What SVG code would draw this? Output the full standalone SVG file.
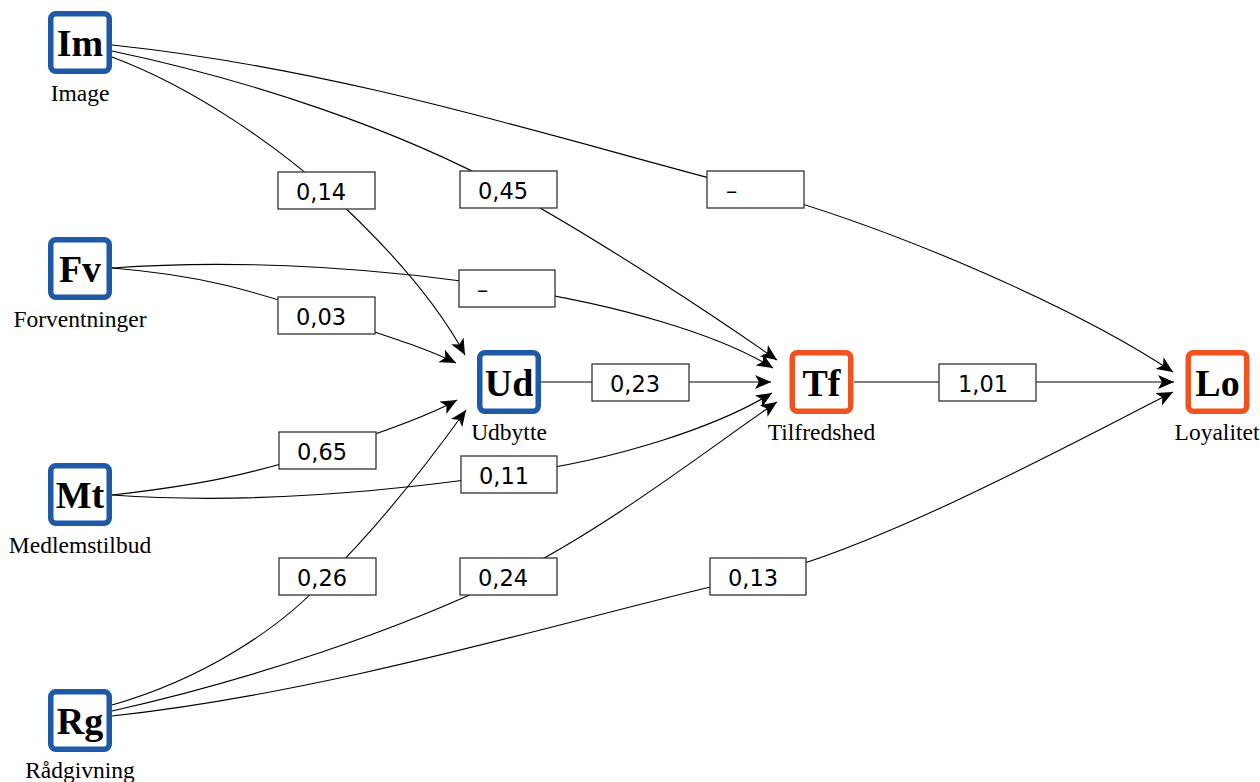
<svg xmlns="http://www.w3.org/2000/svg" width="1260" height="782" viewBox="0 0 1260 782">
<style>
.nb{fill:#fff;stroke-width:5.5}
.blue{stroke:#1f5aa8}
.orange{stroke:#f0531f}
.nt{font-family:"Liberation Serif",serif;font-weight:bold;font-size:38px;text-anchor:middle;fill:#000}
.nl{font-family:"Liberation Serif",serif;font-size:23.5px;text-anchor:middle;fill:#000}
.e{fill:none;stroke:#000;stroke-width:1.1}
.lb{fill:#fff;stroke:#333;stroke-width:1.3}
.lt{font-family:"DejaVu Sans",sans-serif;font-size:22.5px;fill:#000}
</style>
<defs>
<marker id="ar" markerUnits="userSpaceOnUse" markerWidth="18" markerHeight="14" refX="16" refY="7" orient="auto">
<path d="M0,0 L16,7 L0,14 L4,7 z" fill="#000"/>
</marker>
</defs>
<rect width="1260" height="782" fill="#fff"/>
<g id="connectors">
<path class="e" marker-end="url(#ar)" d="M112,57 C200,90 280,150 326,190 C370,230 430,290 465,355"/>
<path class="e" marker-end="url(#ar)" d="M112,51 C250,80 400,130 508,190 C600,240 720,320 777,360"/>
<path class="e" marker-end="url(#ar)" d="M112,45 C350,70 560,140 755,190 C900,230 1080,310 1173,372"/>
<path class="e" marker-end="url(#ar)" d="M112,268 C200,275 250,290 326,315 C380,335 420,345 456,363"/>
<path class="e" marker-end="url(#ar)" d="M112,268 C250,258 400,270 507,288 C620,305 720,335 773,368"/>
<path class="e" marker-end="url(#ar)" d="M112,495 C200,485 250,475 327,450 C390,430 430,415 457,400"/>
<path class="e" marker-end="url(#ar)" d="M112,495 C250,505 400,490 509,474 C620,460 720,425 772,393"/>
<path class="e" marker-end="url(#ar)" d="M112,705 C200,680 280,630 327,577 C380,525 430,460 466,410"/>
<path class="e" marker-end="url(#ar)" d="M112,711 C250,680 400,630 508,577 C610,527 720,440 777,402"/>
<path class="e" marker-end="url(#ar)" d="M112,716 C350,690 600,610 758,576 C870,552 1080,440 1173,392"/>
<path class="e" marker-end="url(#ar)" d="M541,382 L771,382"/>
<path class="e" marker-end="url(#ar)" d="M854,382 L1174,382"/>
</g>
<g id="labels">
<rect class="lb" x="278" y="172" width="97" height="37"/><text class="lt" x="296" y="200">0,14</text>
<rect class="lb" x="460" y="171" width="97" height="37"/><text class="lt" x="478" y="199">0,45</text>
<rect class="lb" x="707" y="171" width="97" height="37"/><text class="lt" x="726" y="199">–</text>
<rect class="lb" x="459" y="270" width="96" height="37"/><text class="lt" x="477" y="298">–</text>
<rect class="lb" x="278" y="297" width="97" height="37"/><text class="lt" x="296" y="325">0,03</text>
<rect class="lb" x="592" y="364" width="97" height="37"/><text class="lt" x="610" y="392">0,23</text>
<rect class="lb" x="939" y="364" width="97" height="37"/><text class="lt" x="958" y="392">1,01</text>
<rect class="lb" x="279" y="432" width="97" height="37"/><text class="lt" x="297" y="460">0,65</text>
<rect class="lb" x="461" y="456" width="96" height="37"/><text class="lt" x="479" y="484">0,11</text>
<rect class="lb" x="279" y="558" width="97" height="37"/><text class="lt" x="297" y="586">0,26</text>
<rect class="lb" x="460" y="558" width="97" height="37"/><text class="lt" x="478" y="586">0,24</text>
<rect class="lb" x="710" y="558" width="96" height="37"/><text class="lt" x="728" y="586">0,13</text>
</g>
<g id="Im"><rect class="nb blue" x="50.75" y="13.75" width="58.5" height="57.5" rx="5"/><text class="nt" x="80" y="56">Im</text><text class="nl" x="80" y="101">Image</text></g>
<g id="Fv"><rect class="nb blue" x="50.75" y="239.75" width="58.5" height="57.5" rx="5"/><text class="nt" x="80" y="282">Fv</text><text class="nl" x="80" y="327">Forventninger</text></g>
<g id="Mt"><rect class="nb blue" x="50.75" y="465.75" width="58.5" height="57.5" rx="5"/><text class="nt" x="80" y="508">Mt</text><text class="nl" x="80" y="553">Medlemstilbud</text></g>
<g id="Rg"><rect class="nb blue" x="50.75" y="691.75" width="58.5" height="57.5" rx="5"/><text class="nt" x="80" y="734">Rg</text><text class="nl" x="80" y="778">Rådgivning</text></g>
<g id="Ud"><rect class="nb blue" x="479.75" y="352.75" width="58.5" height="58.5" rx="5"/><text class="nt" x="509" y="396">Ud</text><text class="nl" x="509" y="440">Udbytte</text></g>
<g id="Tf"><rect class="nb orange" x="792.25" y="352.75" width="58.5" height="58.5" rx="5"/><text class="nt" x="821.5" y="396">Tf</text><text class="nl" x="821.5" y="440">Tilfredshed</text></g>
<g id="Lo"><rect class="nb orange" x="1188.25" y="352.75" width="58.5" height="58.5" rx="5"/><text class="nt" x="1217.5" y="396">Lo</text><text class="nl" x="1217" y="440">Loyalitet</text></g>
</svg>
